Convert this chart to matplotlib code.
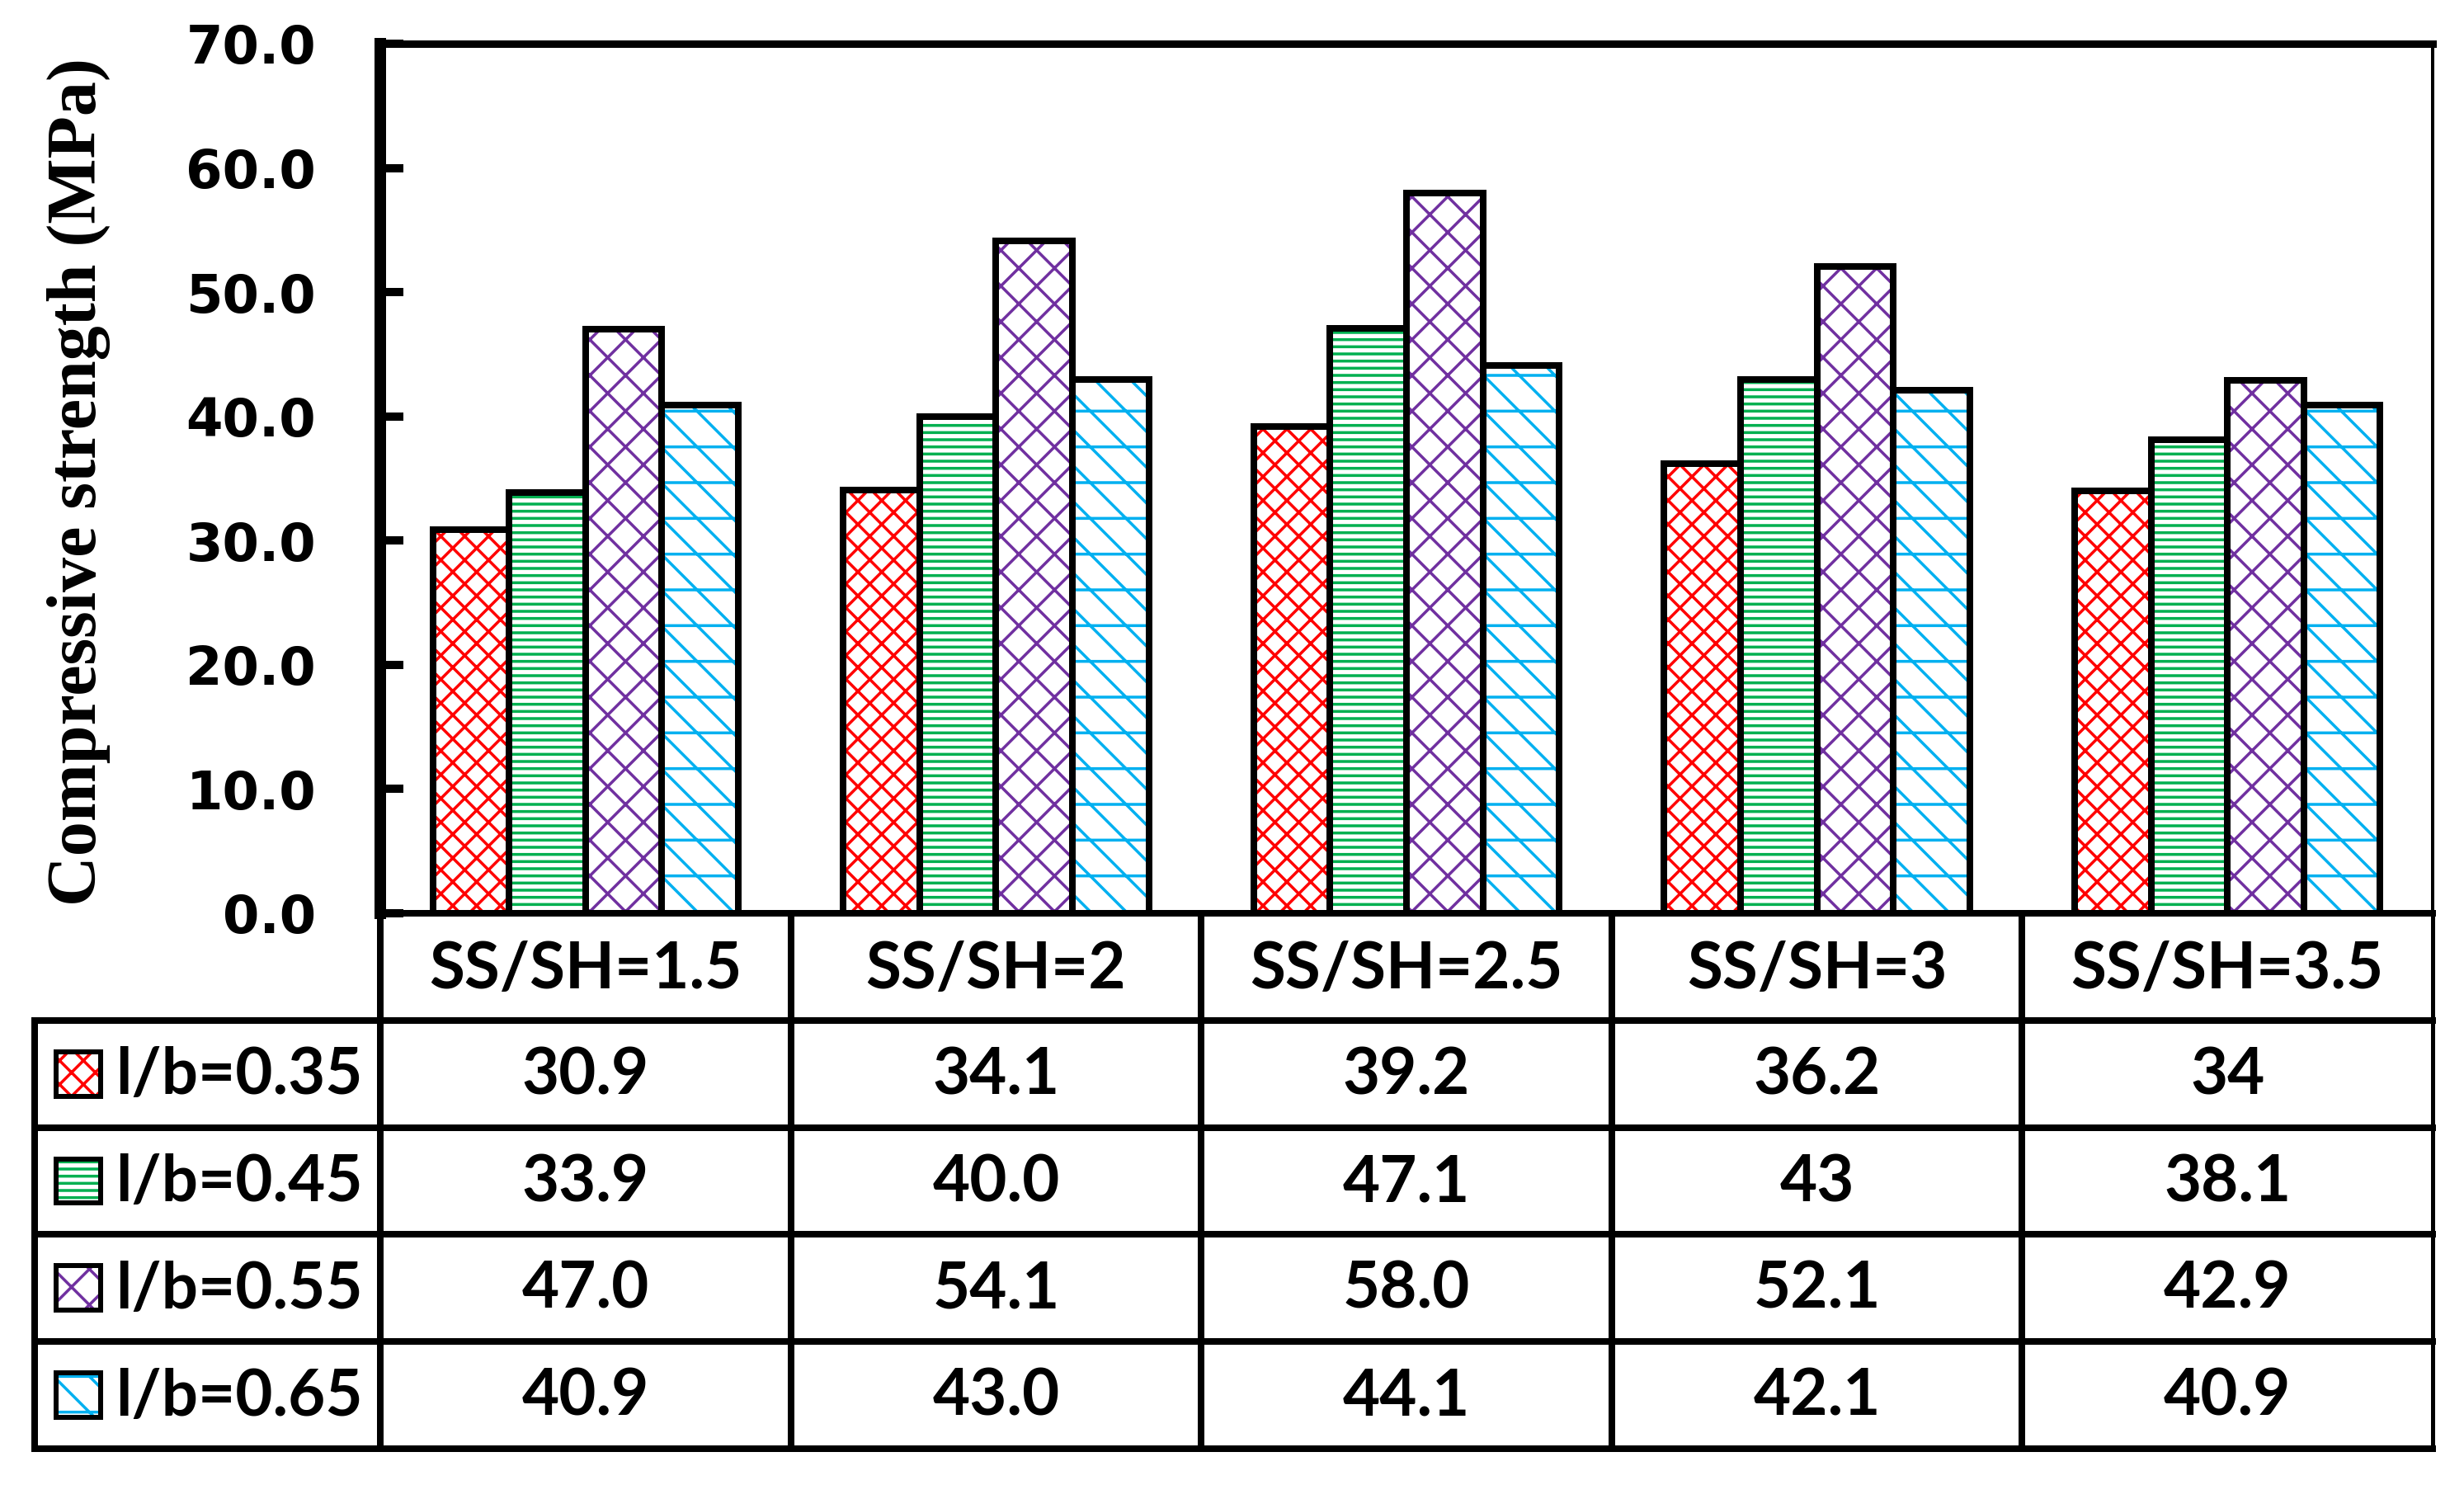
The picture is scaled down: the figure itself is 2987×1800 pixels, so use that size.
import matplotlib
matplotlib.use("Agg")
import matplotlib.pyplot as plt
from matplotlib.patches import Rectangle
import numpy as np

# data (table text kept as printed)
categories = ["SS/SH=1.5", "SS/SH=2", "SS/SH=2.5", "SS/SH=3", "SS/SH=3.5"]
series_names = ["l/b=0.35", "l/b=0.45", "l/b=0.55", "l/b=0.65"]
lb035 = ["30.9", "34.1", "39.2", "36.2", "34"]
lb045 = ["33.9", "40.0", "47.1", "43", "38.1"]
lb055 = ["47.0", "54.1", "58.0", "52.1", "42.9"]
lb065 = ["40.9", "43.0", "44.1", "42.1", "40.9"]
yticks = [0, 10, 20, 30, 40, 50, 60, 70]

rows = [lb035, lb045, lb055, lb065]
colors = ["#FF0000", "#00B050", "#7030A0", "#00B0F0"]
hatches = ["xxx", "-----", "xx", "-\\\\"]

W, H = 2987, 1800
dpi = 260


def pt(px):
    # pixel size -> points at this dpi
    return px * 72.0 / dpi


plt.rcParams["hatch.linewidth"] = pt(3.5)

fig = plt.figure(figsize=(W / dpi, H / dpi), dpi=dpi)
fig.patch.set_facecolor("white")

ax_l, ax_r, ax_t, ax_b = 461, 2949, 53, 1107
ax = fig.add_axes([ax_l / W, 1 - ax_b / H, (ax_r - ax_l) / W, (ax_b - ax_t) / H])

x = np.arange(len(categories))
bw = 0.186
for i, row in enumerate(rows):
    vals = [float(v) for v in row]
    pos = x + (i - 1.5) * bw
    ax.bar(pos, vals, bw, color="white", edgecolor=colors[i], hatch=hatches[i],
           linewidth=0, zorder=2)
    ax.bar(pos, vals, bw, fill=False, edgecolor="black", linewidth=pt(8), zorder=3)

ax.set_xlim(-0.5, 4.5)
ax.set_ylim(0, 70)
ax.set_xticks([])
ax.set_yticks(yticks)
ax.set_yticklabels([f"{v:.1f}" for v in yticks], fontsize=pt(64),
                   fontweight="bold", family="DejaVu Sans")
ax.tick_params(axis="y", direction="in", length=pt(28), width=pt(10), pad=pt(78))
ax.spines["left"].set_linewidth(pt(14))
ax.spines["top"].set_linewidth(pt(9))
ax.spines["right"].set_linewidth(pt(4))
ax.spines["bottom"].set_linewidth(pt(8))
for s in ax.spines.values():
    s.set_zorder(4)

fig.text(95 / W, 1 - 584 / H, "Compressive strength (MPa)", rotation=90,
         ha="center", va="center", fontsize=pt(84), fontweight="bold",
         family="Liberation Serif")

# table under the plot
tb_l, tb_b = 42, 1756
tax = fig.add_axes([tb_l / W, 1 - tb_b / H, (ax_r - tb_l) / W, (tb_b - ax_b) / H])
unit = (ax_r - ax_l) / 5.0
leg_w = (ax_l - tb_l) / unit
tax.set_xlim(-0.5 - leg_w, 4.5)
tax.set_ylim(5, 0)
tax.axis("off")

lw = pt(8)
lkw = dict(color="black", linewidth=lw, solid_capstyle="projecting", clip_on=False)
for yy in [1, 2, 3, 4, 5]:
    tax.plot([-0.5 - leg_w, 4.5], [yy, yy], **lkw)
tax.plot([-0.5 - leg_w, -0.5 - leg_w], [1, 5], **lkw)
for xx in np.arange(-0.5, 4.0, 1.0):
    tax.plot([xx, xx], [0, 5], **lkw)
tax.plot([4.5, 4.5], [0, 5], color="black", linewidth=pt(5), clip_on=False)

tfont = dict(fontsize=pt(78), fontweight="bold", family=["Lato", "DejaVu Sans"])
for j, c in enumerate(categories):
    tax.text(j, 0.53, c, ha="center", va="center", **tfont)
for i, row in enumerate(rows):
    for j, v in enumerate(row):
        tax.text(j, i + 1.52, v, ha="center", va="center", **tfont)
    # legend swatch
    sx = -0.5 - leg_w + (68 - tb_l) / unit
    sw = 54 / unit
    sh = 54 / 130.0
    tax.add_patch(Rectangle((sx, i + 1.5 - sh / 2), sw, sh, facecolor="white",
                            edgecolor=colors[i], hatch=hatches[i], linewidth=0,
                            clip_on=False))
    tax.add_patch(Rectangle((sx, i + 1.5 - sh / 2), sw, sh, fill=False,
                            edgecolor="black", linewidth=pt(6), clip_on=False))
    tax.text(-0.5 - leg_w + (140 - tb_l) / unit, i + 1.52, series_names[i],
             ha="left", va="center", **tfont)

fig.savefig("out.png", dpi=dpi, facecolor="white")
